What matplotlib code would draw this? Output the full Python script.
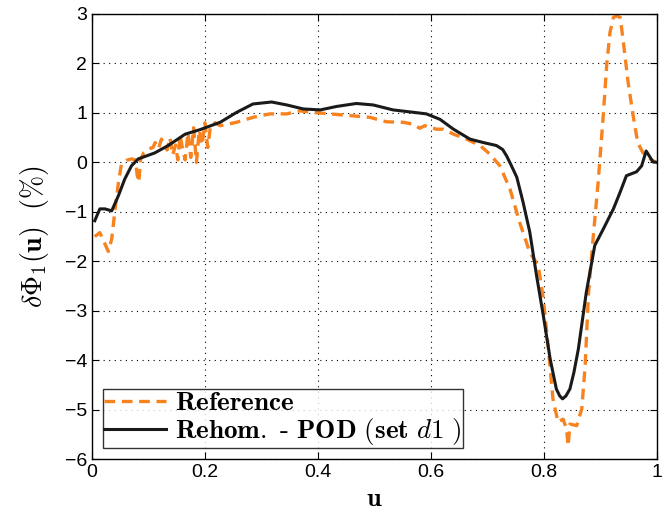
import matplotlib
matplotlib.use("Agg")
import matplotlib.pyplot as plt

# reference curve (orange dashed)
ref_u = [0.005, 0.014, 0.022, 0.029, 0.035, 0.041, 0.047, 0.052, 0.061, 0.070,
         0.077, 0.080, 0.083, 0.086, 0.092, 0.100, 0.108, 0.112, 0.118, 0.123,
         0.128, 0.133, 0.138, 0.143, 0.148, 0.152, 0.156, 0.160, 0.165, 0.170,
         0.175, 0.180, 0.185, 0.190, 0.195, 0.200, 0.205, 0.210, 0.218, 0.227,
         0.256, 0.285, 0.315, 0.345, 0.368, 0.392, 0.421, 0.462, 0.492, 0.521,
         0.551, 0.569, 0.580, 0.589, 0.610, 0.622, 0.640, 0.663, 0.687, 0.704,
         0.722, 0.740, 0.757, 0.775, 0.790, 0.799, 0.808, 0.816, 0.825, 0.834,
         0.840, 0.843, 0.846, 0.858, 0.867, 0.873, 0.879, 0.888, 0.896, 0.905,
         0.911, 0.917, 0.923, 0.929, 0.935, 0.940, 0.949, 0.958, 0.966, 0.975,
         0.988, 0.998]
ref_v = [-1.50, -1.42, -1.62, -1.80, -1.55, -0.95, -0.40, -0.05, 0.04, 0.07,
         0.05, -0.25, -0.40, 0.05, 0.20, 0.27, 0.30, 0.40, 0.28, 0.47,
         0.35, 0.25, 0.50, 0.15, 0.35, 0.05, 0.55, 0.30, 0.05, 0.60,
         0.10, 0.70, 0.00, 0.65, 0.35, 0.80, 0.30, 0.75, 0.80, 0.74,
         0.81, 0.91, 0.98, 0.98, 1.04, 1.01, 0.98, 0.94, 0.91, 0.82,
         0.81, 0.77, 0.69, 0.74, 0.67, 0.67, 0.57, 0.47, 0.34, 0.17,
         -0.07, -0.54, -1.21, -1.82, -2.09, -2.76, -3.77, -4.78, -5.25, -5.19,
         -5.39, -5.73, -5.29, -5.32, -4.98, -4.11, -2.63, -1.41, -0.40, 0.94,
         1.95, 2.63, 2.93, 2.96, 2.93, 2.49, 1.62, 0.94, 0.40, 0.20,
         0.07, 0.00]

# rehomogenization - POD curve (black solid)
pod_u = [0.005, 0.014, 0.023, 0.035, 0.047, 0.058, 0.070, 0.082, 0.111, 0.135,
         0.165, 0.191, 0.227, 0.256, 0.285, 0.318, 0.345, 0.374, 0.404, 0.433,
         0.468, 0.498, 0.533, 0.563, 0.592, 0.616, 0.640, 0.669, 0.693, 0.716,
         0.727, 0.734, 0.743, 0.752, 0.763, 0.775, 0.787, 0.799, 0.811, 0.822,
         0.828, 0.833, 0.839, 0.846, 0.853, 0.861, 0.875, 0.890, 0.905, 0.923,
         0.935, 0.946, 0.964, 0.973, 0.981, 0.993, 1.000]
pod_v = [-1.18, -0.94, -0.94, -0.98, -0.67, -0.34, -0.07, 0.07, 0.19, 0.34,
         0.57, 0.66, 0.81, 1.01, 1.18, 1.22, 1.16, 1.08, 1.06, 1.13,
         1.19, 1.16, 1.06, 1.02, 0.98, 0.87, 0.67, 0.47, 0.40, 0.34,
         0.26, 0.13, -0.08, -0.30, -0.80, -1.41, -2.29, -3.10, -3.97, -4.58,
         -4.72, -4.78, -4.72, -4.58, -4.25, -3.77, -2.63, -1.68, -1.35, -0.94,
         -0.60, -0.27, -0.19, -0.07, 0.23, 0.01, 0.00]

xticks = [0, 0.2, 0.4, 0.6, 0.8, 1]
yticks = [-6, -5, -4, -3, -2, -1, 0, 1, 2, 3]

plt.rcParams["mathtext.fontset"] = "cm"
plt.rcParams["font.family"] = "Liberation Sans"

fig = plt.figure(figsize=(6.71, 5.16), dpi=100)
ax = fig.add_axes([0.137, 0.110, 0.842, 0.863])

ax.plot(ref_u, ref_v, color="#F7821E", lw=2.4, dashes=(3.2, 2.0),
        label=r"$\mathbf{Reference}$")
ax.plot(pod_u, pod_v, color="#1a1a1a", lw=2.2,
        label=r"$\mathbf{Rehom.}\ \text{-}\ \mathbf{POD\ (set}\ \mathit{d1}\ \mathbf{)}$")

ax.set_xlim(0, 1)
ax.set_ylim(-6, 3)
ax.set_xticks(xticks)
ax.set_xticklabels(["0", "0.2", "0.4", "0.6", "0.8", "1"])
ax.set_yticks(yticks)
ax.grid(True, color="black", linestyle=(0, (1, 4)), linewidth=0.8)
ax.tick_params(direction="in", top=True, right=True, labelsize=14, length=5)
for s in ax.spines.values():
    s.set_linewidth(1.0)

ax.set_xlabel(r"$\mathbf{u}$", fontsize=19, labelpad=4)
ax.set_ylabel(r"$\delta\Phi_1(\mathbf{u})\ \ (\%)$", fontsize=20, labelpad=10)

leg = ax.legend(loc="lower left", fontsize=19.5, frameon=True, fancybox=False,
                edgecolor="black", borderpad=0.05, handlelength=2.3,
                labelspacing=0.0, borderaxespad=0.4, handletextpad=0.3)
leg.get_frame().set_linewidth(1.0)

fig.savefig("out.png", dpi=100)
